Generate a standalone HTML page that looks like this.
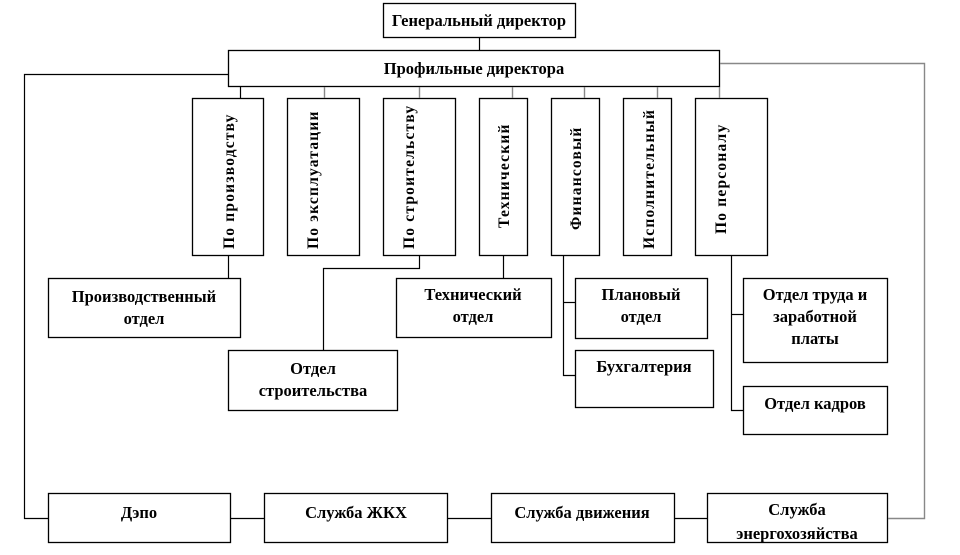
<!DOCTYPE html>
<html><head><meta charset="utf-8"><style>
html,body{margin:0;padding:0;background:#fff;width:960px;height:555px;overflow:hidden}
svg text{font-family:"Liberation Serif","DejaVu Serif",serif;font-weight:bold;font-size:16.5px;fill:#000}
svg .v text{font-size:15.5px}
</style></head><body>
<svg width="960" height="555" viewBox="0 0 960 555" xmlns="http://www.w3.org/2000/svg">
<g fill="#fff" stroke="#000" stroke-width="1.3">
<rect x="383.5" y="3.5" width="192" height="34"/>
<rect x="228.5" y="50.5" width="491" height="36"/>
<rect x="192.5" y="98.5" width="71" height="157"/>
<rect x="287.5" y="98.5" width="72" height="157"/>
<rect x="383.5" y="98.5" width="72" height="157"/>
<rect x="479.5" y="98.5" width="48" height="157"/>
<rect x="551.5" y="98.5" width="48" height="157"/>
<rect x="623.5" y="98.5" width="48" height="157"/>
<rect x="695.5" y="98.5" width="72" height="157"/>
<rect x="48.5" y="278.5" width="192" height="59"/>
<rect x="228.5" y="350.5" width="169" height="60"/>
<rect x="396.5" y="278.5" width="155" height="59"/>
<rect x="575.5" y="278.5" width="132" height="60"/>
<rect x="575.5" y="350.5" width="138" height="57"/>
<rect x="743.5" y="278.5" width="144" height="84"/>
<rect x="743.5" y="386.5" width="144" height="48"/>
<rect x="48.5" y="493.5" width="182" height="49"/>
<rect x="264.5" y="493.5" width="183" height="49"/>
<rect x="491.5" y="493.5" width="183" height="49"/>
<rect x="707.5" y="493.5" width="180" height="49"/>
</g>
<g fill="none" stroke="#000" stroke-width="1.2">
<line x1="479.5" y1="38" x2="479.5" y2="50"/>
<line x1="240.5" y1="87" x2="240.5" y2="98"/>
<polyline points="228,74.5 24.5,74.5 24.5,518.5 48,518.5"/>
<line x1="228.5" y1="256" x2="228.5" y2="278"/>
<polyline points="419.5,256 419.5,268.5 323.5,268.5 323.5,350"/>
<line x1="503.5" y1="256" x2="503.5" y2="278"/>
<polyline points="563.5,256 563.5,375.5 575,375.5"/>
<line x1="563.5" y1="302.5" x2="575" y2="302.5"/>
<polyline points="731.5,256 731.5,410.5 743,410.5"/>
<line x1="731.5" y1="314.5" x2="743" y2="314.5"/>
<line x1="231" y1="518.5" x2="264" y2="518.5"/>
<line x1="448" y1="518.5" x2="491" y2="518.5"/>
<line x1="675" y1="518.5" x2="707" y2="518.5"/>
</g>
<g fill="none" stroke="#888" stroke-width="1.4">
<line x1="324.5" y1="87" x2="324.5" y2="98"/>
<line x1="419.5" y1="87" x2="419.5" y2="98"/>
<line x1="512.5" y1="87" x2="512.5" y2="98"/>
<line x1="584.5" y1="87" x2="584.5" y2="98"/>
<line x1="657.5" y1="87" x2="657.5" y2="98"/>
<line x1="719.5" y1="87" x2="719.5" y2="98"/>
<polyline points="720,63.5 924.5,63.5 924.5,518.5 888,518.5"/>
</g>
<g text-anchor="middle">
<text x="479" y="26">Генеральный директор</text>
<text x="474" y="74">Профильные директора</text>
<text x="144" y="302">Производственный</text><text x="144" y="324">отдел</text>
<text x="313" y="374">Отдел</text><text x="313" y="396">строительства</text>
<text x="473" y="300">Технический</text><text x="473" y="322">отдел</text>
<text x="641" y="300">Плановый</text><text x="641" y="322">отдел</text>
<text x="644" y="372">Бухгалтерия</text>
<text x="815" y="300">Отдел труда и</text><text x="815" y="322">заработной</text><text x="815" y="344">платы</text>
<text x="815" y="409">Отдел кадров</text>
<text x="139" y="518">Дэпо</text>
<text x="356" y="518">Служба ЖКХ</text>
<text x="582" y="518">Служба движения</text>
<text x="797" y="515">Служба</text><text x="797" y="539">энергохозяйства</text>
</g>
<g class="v" style="letter-spacing:1.2px">
<text transform="translate(234,249) rotate(-90)">По производству</text>
<text transform="translate(318,249) rotate(-90)">По эксплуатации</text>
<text transform="translate(414,249) rotate(-90)">По строительству</text>
<text transform="translate(509,228) rotate(-90)">Технический</text>
<text transform="translate(581,230) rotate(-90)">Финансовый</text>
<text transform="translate(654,249) rotate(-90)">Исполнительный</text>
<text transform="translate(726,234) rotate(-90)">По персоналу</text>
</g>
</svg>
</body></html>
